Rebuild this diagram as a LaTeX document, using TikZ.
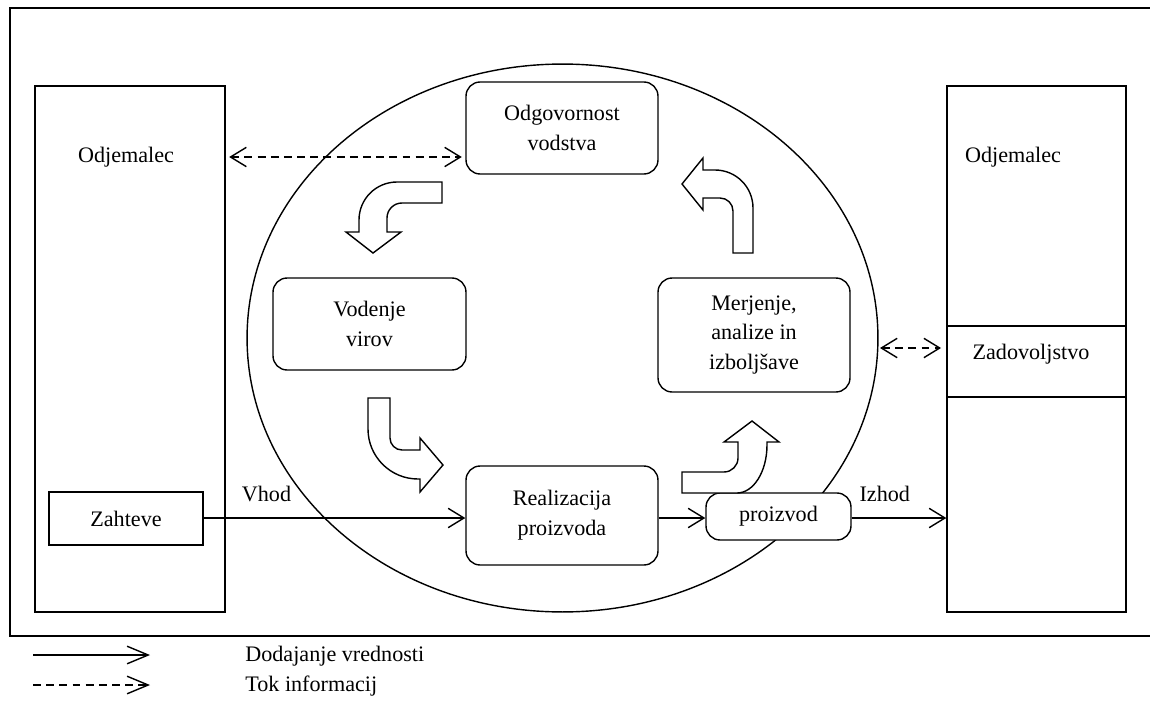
\documentclass[tikz,border=0pt]{standalone}
\usepackage{fontspec}
\setmainfont{Liberation Serif}
\usetikzlibrary{arrows.meta,shapes.geometric}
\begin{document}
\begin{tikzpicture}[x=0.02cm,y=-0.02cm,
  every node/.style={font=\fontsize{12.6}{17}\selectfont},
  ln/.style={line width=0.8pt},
  sz/.style 2 args={minimum width=#1*0.56906pt, minimum height=#2*0.56906pt},
  box/.style={draw, line width=0.8pt, fill=white, inner sep=0pt, align=center},
  rbox/.style={box, rounded corners=8pt},
  tip/.style={-{Straight Barb[length=9pt,width=11pt,line width=0.8pt]}},
  ltip/.style={-{Straight Barb[length=12pt,width=10pt,line width=0.8pt]}},
  dtip/.style={{Straight Barb[length=9pt,width=11pt,line width=0.8pt]}-{Straight Barb[length=9pt,width=11pt,line width=0.8pt]}},
  dsh/.style={dash pattern=on 4.5pt off 3pt},
  blk/.style={draw, fill=white, line width=0.8pt, line join=miter},
  lbl/.style={inner sep=1pt}
]
\useasboundingbox (0,0) rectangle (1150,720);

% outer frame
\draw[ln] (1150,8) -- (10,8) -- (10,636) -- (1150,636);

% central ellipse
\node[ellipse, draw, line width=0.8pt, sz={631}{548}, inner sep=0pt] (ell) at (562.5,338) {};

% customer boxes
\node[box, sz={190}{526}] (odj1) at (130,349) {};
\node (odjt1) at (126,157) {Odjemalec};
\node[box, sz={154}{53}] (zah) at (126,518.5) {Zahteve};

\node[box, sz={179}{526}] (odj2) at (1036.5,349) {};
\node (odjt2) at (1013,157) {Odjemalec};
\node[box, sz={179}{71}] (zad) at (1036.5,361.5) {};
\node (zadt) at (1031,354) {Zadovoljstvo};

% process boxes
\node[rbox, sz={192}{92}] (odg) at (562,128) {Odgovornost\\vodstva};
\node[rbox, sz={193}{92}] (vod) at (369.5,324) {Vodenje\\virov};
\node[rbox, sz={192}{114}] (mer) at (754,335) {Merjenje,\\analize in\\izboljšave};
\node[rbox, sz={192}{99}] (real) at (562,515.5) {Realizacija\\proizvoda};
\node[rbox, sz={145}{47}] (proi) at (778.5,516.5) {\raisebox{-3pt}{proizvod}};

% value flow
\coordinate (vy) at (0,518);
\draw[ln, tip] (zah.east |- vy) -- node[lbl, pos=0.24, above=8pt] {Vhod} (real.west |- vy);
\draw[ln, tip] (real.east |- vy) -- (proi.west |- vy);
\draw[ln, tip] (proi.east |- vy) -- node[lbl, pos=0.35, above=8pt] {Izhod} (odj2.west |- vy);

% information flow
\draw[ln, dsh, dtip, shorten <=2pt, shorten >=2pt] (odj1.east |- odjt1) -- (odg.west |- odjt1);
\coordinate (ei) at (880,348);
\draw[ln, dsh, dtip, shorten >=3pt] (ei) -- (odj2.west |- ei);

% block arrows
% Odgovornost -> Vodenje
\draw[blk] (442,182) -- (397,182) .. controls (376,182) and (359,199) .. (359,220)
  -- (359,232) -- (346,232) -- (373,253) -- (401,232) -- (387,232) -- (387,218)
  .. controls (387,209.7) and (393.7,203) .. (402,203) -- (442,203) -- cycle;
% Vodenje -> Realizacija
\draw[blk] (368,398) -- (390,398) -- (390,438) .. controls (390,444.6) and (395.4,450) .. (402,450)
  -- (420,450) -- (420,438) -- (443,465) -- (420,492) -- (420,479) -- (418,479)
  .. controls (390.4,479) and (368,456.6) .. (368,429) -- cycle;
% Realizacija -> Merjenje
\draw[blk] (682,472) -- (724,472) .. controls (731.7,472) and (738,465.7) .. (738,458)
  -- (738,442) -- (724,442) -- (752,421) -- (779,442) -- (767,442) -- (767,445)
  .. controls (767,471.5) and (753.6,493) .. (737,493) -- (682,493) -- cycle;
% Merjenje -> Odgovornost
\draw[blk] (733,253) -- (753,253) -- (753,208) .. controls (753,187) and (736,170) .. (715,170)
  -- (703,170) -- (703,158) -- (682,184) -- (703,210) -- (703,198) -- (720,198)
  .. controls (727.2,198) and (733,203.8) .. (733,211) -- cycle;

% legend
\coordinate (la1) at (33,655);
\coordinate (la2) at (150,655);
\coordinate (lb1) at (33,685);
\coordinate (lb2) at (150,685);
\draw[ln, ltip] (la1) -- (la2);
\draw[ln, dsh, ltip] (lb1) -- (lb2);
\node[anchor=west, inner sep=0pt] (lt1) at (245,656) {Dodajanje vrednosti};
\node[anchor=west, inner sep=0pt] (lt2) at (245,686) {Tok informacij};
\end{tikzpicture}
\end{document}
